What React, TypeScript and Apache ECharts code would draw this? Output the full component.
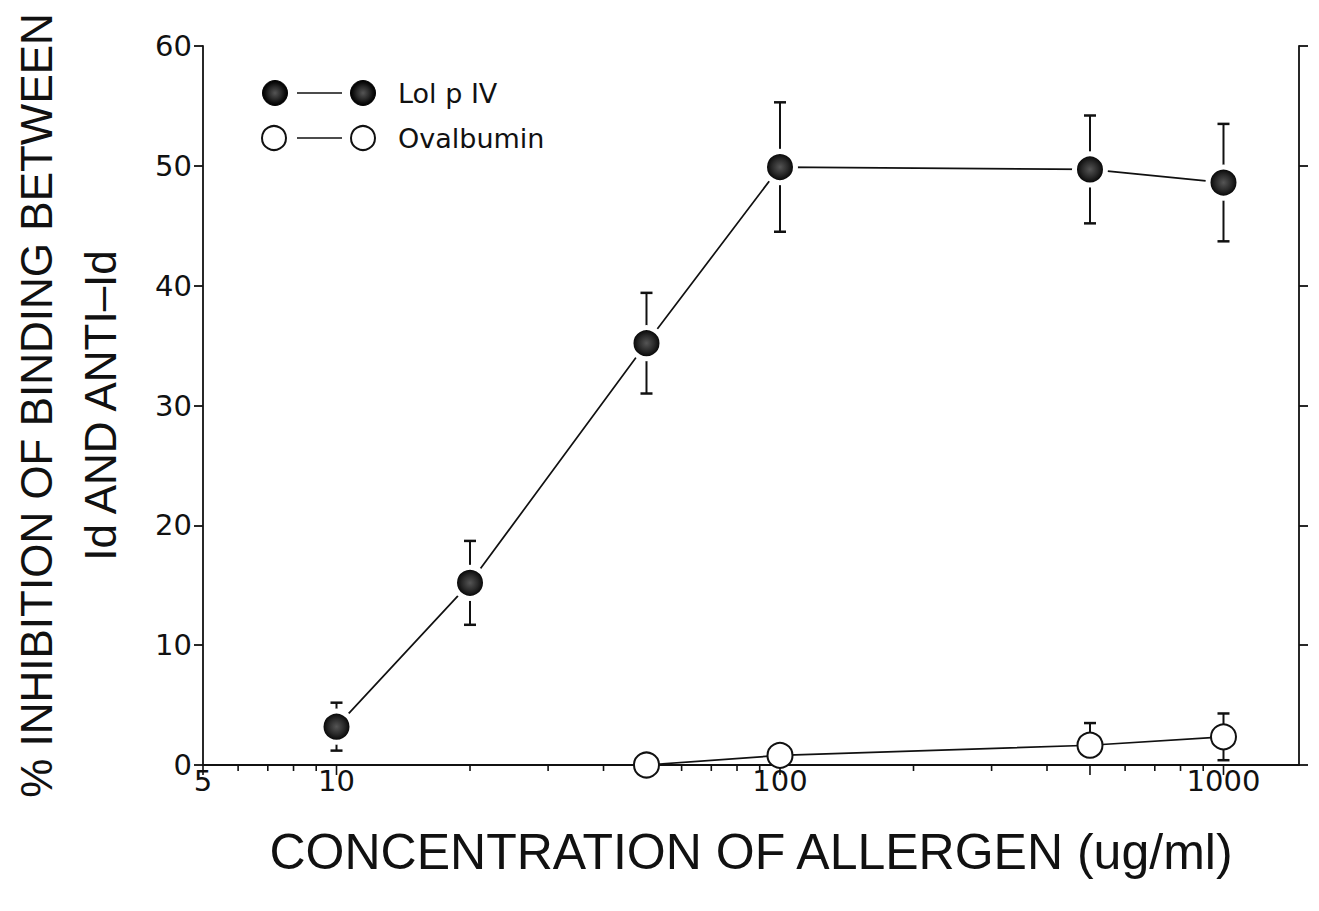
import React, { useEffect, useRef } from "react";
import * as echarts from "echarts";

// Allergen concentration (ug/ml) and % inhibition, with ± error
const lolConc = [10, 20, 50, 100, 500, 1000];
const lolInhibition = [3.2, 15.2, 35.2, 49.9, 49.7, 48.6];
const lolError = [2.0, 3.5, 4.2, 5.4, 4.5, 4.9];

const ovaConc = [50, 100, 500, 1000];
const ovaInhibition = [0, 0.8, 1.65, 2.35];
const ovaErrorUp = [0, 0, 1.85, 1.95];
const ovaErrorDown = [0, 0, 0, 1.95];

// Log-axis tick marks
const xLabelValues = [5, 10, 100, 1000];
const xMajorTicks = [5, 10, 100, 500, 1000];
const xMinorTicks = [6, 7, 8, 9, 20, 30, 40, 50, 60, 70, 80, 90, 200, 300, 400, 600, 700, 800, 900];

const INK = "#111";
const TICK_FONT = "'DejaVu Sans', Verdana, sans-serif";
const TITLE_FONT = "'Liberation Sans Narrow', 'Arial Narrow', 'Liberation Sans', sans-serif";

const filledDot = new echarts.graphic.RadialGradient(0.5, 0.5, 0.5, [
  { offset: 0, color: "#555" },
  { offset: 0.5, color: "#2a2a2a" },
  { offset: 0.8, color: "#0d0d0d" },
  { offset: 1, color: "#000" },
]);

function errorBarRenderer(params: any, api: any) {
  const x = api.value(0);
  const y = api.value(1);
  const lo = api.value(2);
  const hi = api.value(3);
  const c = api.coord([x, y]);
  const children: any[] = [];
  const cap = 6;
  const style = { stroke: INK, lineWidth: 2 };
  if (hi > 0) {
    const t = api.coord([x, y + hi]);
    children.push({ type: "line", shape: { x1: c[0], y1: c[1], x2: t[0], y2: t[1] }, style });
    children.push({ type: "line", shape: { x1: t[0] - cap, y1: t[1], x2: t[0] + cap, y2: t[1] }, style: { stroke: INK, lineWidth: 2.5 } });
  }
  if (lo > 0) {
    const b = api.coord([x, y - lo]);
    children.push({ type: "line", shape: { x1: c[0], y1: c[1], x2: b[0], y2: b[1] }, style });
    children.push({ type: "line", shape: { x1: b[0] - cap, y1: b[1], x2: b[0] + cap, y2: b[1] }, style: { stroke: INK, lineWidth: 2.5 } });
  }
  return { type: "group", children };
}

function tickRenderer(len: number) {
  return (params: any, api: any) => {
    const p = api.coord([api.value(0), 0]);
    return {
      type: "line",
      shape: { x1: p[0], y1: p[1], x2: p[0], y2: p[1] + len },
      style: { stroke: INK, lineWidth: 1.6 },
    };
  };
}

export default function App() {
  const ref = useRef<HTMLDivElement>(null);

  useEffect(() => {
    if (!ref.current) return;
    const chart = echarts.init(ref.current, undefined, { renderer: "svg" });

    const lolData = lolConc.map((x, i) => [x, lolInhibition[i]]);
    const ovaData = ovaConc.map((x, i) => [x, ovaInhibition[i]]);
    const lolErr = lolConc.map((x, i) => [x, lolInhibition[i], lolError[i], lolError[i]]);
    const ovaErr = ovaConc.map((x, i) => [x, ovaInhibition[i], ovaErrorDown[i], ovaErrorUp[i]]);

    const option: any = {
      animation: false,
      backgroundColor: "#fff",
      grid: { left: 203, right: 20, top: 46, bottom: 146, containLabel: false, outerBoundsMode: "none" },
      xAxis: {
        type: "log",
        logBase: 10,
        min: 5,
        max: 1480,
        name: "CONCENTRATION OF ALLERGEN (ug/ml)",
        nameLocation: "middle",
        nameGap: 62,
        nameTextStyle: { fontFamily: TITLE_FONT, fontSize: 50, color: INK },
        axisLine: { show: true, lineStyle: { color: INK, width: 1.8 } },
        axisTick: { show: false },
        splitLine: { show: false },
        minorTick: { show: false },
        axisLabel: {
          showMinLabel: true,
          showMaxLabel: true,
          margin: 1,
          fontFamily: TICK_FONT,
          fontSize: 29,
          color: INK,
          formatter: (v: number) => {
            const r = Math.round(v);
            return xLabelValues.includes(r) ? String(r) : "";
          },
        },
      },
      yAxis: [
        {
          type: "value",
          position: "left",
          min: 0,
          max: 60,
          interval: 10,
          name: "% INHIBITION OF BINDING BETWEEN\nId AND ANTI–Id",
          nameLocation: "middle",
          nameRotate: 90,
          nameGap: 71,
          nameTextStyle: { fontFamily: TITLE_FONT, fontSize: 44, color: INK, lineHeight: 64, align: "center" },
          axisLine: { show: true, lineStyle: { color: INK, width: 1.8 } },
          axisTick: { show: true, inside: false, length: 9, lineStyle: { color: INK, width: 1.8 } },
          splitLine: { show: false },
          axisLabel: { margin: 11, fontFamily: TICK_FONT, fontSize: 29, color: INK },
        },
        {
          type: "value",
          position: "right",
          min: 0,
          max: 60,
          interval: 10,
          axisLine: { show: true, lineStyle: { color: INK, width: 1.8 } },
          axisTick: { show: true, inside: false, length: 9, lineStyle: { color: INK, width: 1.8 } },
          splitLine: { show: false },
          axisLabel: { show: false },
        },
      ],
      series: [
        {
          type: "custom",
          name: "Lol p IV error",
          renderItem: errorBarRenderer,
          data: lolErr,
          encode: { x: 0, y: 1 },
          z: 1,
          silent: true,
        },
        {
          type: "custom",
          name: "Ovalbumin error",
          renderItem: errorBarRenderer,
          data: ovaErr,
          encode: { x: 0, y: 1 },
          z: 1,
          silent: true,
        },
        {
          type: "custom",
          name: "major ticks",
          renderItem: tickRenderer(10),
          data: xMajorTicks.map((v) => [v, 0]),
          encode: { x: 0, y: 1 },
          clip: false,
          z: 1,
          silent: true,
        },
        {
          type: "custom",
          name: "minor ticks",
          renderItem: tickRenderer(6),
          data: xMinorTicks.map((v) => [v, 0]),
          encode: { x: 0, y: 1 },
          clip: false,
          z: 1,
          silent: true,
        },
        {
          type: "line",
          name: "Lol p IV",
          data: lolData,
          symbol: "circle",
          symbolSize: 31,
          showAllSymbol: true,
          lineStyle: { color: INK, width: 1.7 },
          itemStyle: { color: filledDot, borderColor: "#fff", borderWidth: 5 },
          z: 3,
        },
        {
          type: "line",
          name: "Ovalbumin",
          data: ovaData,
          symbol: "circle",
          symbolSize: 25,
          showAllSymbol: true,
          lineStyle: { color: INK, width: 1.7 },
          itemStyle: { color: "#fff", borderColor: INK, borderWidth: 2 },
          z: 3,
        },
      ],
      graphic: [
        { type: "circle", shape: { cx: 275, cy: 93, r: 12.5 }, style: { fill: filledDot, stroke: "#000", lineWidth: 1 } },
        { type: "line", shape: { x1: 297, y1: 93, x2: 342, y2: 93 }, style: { stroke: INK, lineWidth: 1.6 } },
        { type: "circle", shape: { cx: 363, cy: 93, r: 12.5 }, style: { fill: filledDot, stroke: "#000", lineWidth: 1 } },
        { type: "text", x: 398, y: 93, style: { text: "Lol p IV", fill: INK, font: `27px ${TICK_FONT}`, verticalAlign: "middle" } },
        { type: "circle", shape: { cx: 274, cy: 138, r: 12 }, style: { fill: "#fff", stroke: INK, lineWidth: 2 } },
        { type: "line", shape: { x1: 297, y1: 138, x2: 342, y2: 138 }, style: { stroke: INK, lineWidth: 1.6 } },
        { type: "circle", shape: { cx: 363, cy: 138, r: 12 }, style: { fill: "#fff", stroke: INK, lineWidth: 2 } },
        { type: "text", x: 398, y: 138, style: { text: "Ovalbumin", fill: INK, font: `27px ${TICK_FONT}`, verticalAlign: "middle" } },
      ],
    };

    chart.setOption(option);
    return () => chart.dispose();
  }, []);

  return (
    <div
      ref={ref}
      style={{ position: "absolute", left: 0, top: 0, width: 1319, height: 911, background: "#fff" }}
    />
  );
}
